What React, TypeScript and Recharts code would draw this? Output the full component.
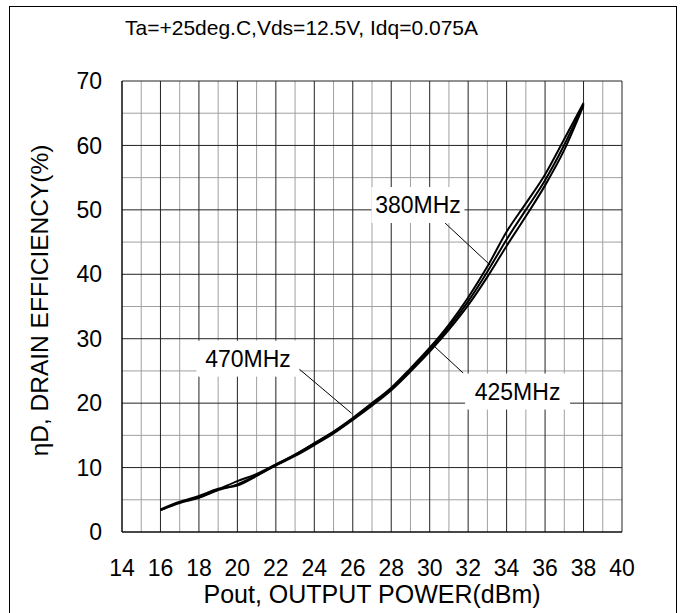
import { LineChart, Line, XAxis, YAxis, CartesianGrid, ReferenceLine, ReferenceDot } from 'recharts';

// Pout (dBm)
const pout = [16, 17, 18, 19, 20, 21, 22, 23, 24, 25, 26, 27, 28, 29, 30, 31, 32, 33, 34, 35, 36, 37, 38];
// drain efficiency (%) per frequency
const eff380 = [3.4, 4.6, 5.4, 6.6, 7.9, 9.0, 10.5, 12.0, 13.8, 15.6, 17.7, 20.0, 22.4, 25.4, 28.6, 32.2, 36.4, 41.2, 46.6, 51.0, 55.5, 61.0, 66.6];
const eff425 = [3.4, 4.5, 5.3, 6.5, 7.4, 8.8, 10.3, 11.8, 13.5, 15.3, 17.4, 19.6, 22.0, 24.9, 28.0, 31.4, 35.2, 39.6, 44.4, 49.0, 53.8, 59.3, 66.2];
const eff470 = [3.5, 4.7, 5.6, 6.7, 7.2, 8.7, 10.4, 12.0, 13.7, 15.5, 17.6, 19.8, 22.2, 25.1, 28.3, 31.8, 35.8, 40.4, 45.4, 50.0, 54.6, 60.1, 66.4];

const xTicks = [14, 16, 18, 20, 22, 24, 26, 28, 30, 32, 34, 36, 38, 40];
const yTicks = [0, 10, 20, 30, 40, 50, 60, 70];
const xMinor = [15, 17, 19, 21, 23, 25, 27, 29, 31, 33, 35, 37, 39];
const yMinor = [5, 15, 25, 35, 45, 55, 65];

// curve labels: text, box centre, leader line from -> to
const labels = [
  { text: '380MHz', at: [29.39, 50.75], from: [30.8, 47.96], to: [33.14, 41.44], w: 93 },
  { text: '425MHz', at: [34.57, 21.8], from: [31.74, 24.68], to: [30.28, 28.71], w: 105 },
  { text: '470MHz', at: [20.55, 26.9], from: [23.15, 25.45], to: [25.94, 18.42], w: 103 },
];

const data = pout.map((x, i) => ({ x, f380: eff380[i], f425: eff425[i], f470: eff470[i] }));

const font = '"Liberation Sans", Arial, sans-serif';

export default function App() {
  return (
    <div style={{ position: 'absolute', left: 0, top: 0, width: 685, height: 613, overflow: 'hidden', background: '#fff', fontFamily: font }}>
      <div style={{ position: 'absolute', left: 9, top: 6, width: 666, height: 620, border: '1px solid #000' }} />
      <div style={{ position: 'absolute', left: 125, top: 16, fontSize: 21, whiteSpace: 'nowrap', color: '#000' }}>
        Ta=+25deg.C,Vds=12.5V, Idq=0.075A
      </div>
      <div style={{ position: 'absolute', left: 0, top: 0 }}>
        <LineChart width={685} height={613} data={data} margin={{ top: 81, right: 63, bottom: 31, left: 0 }}>
          <CartesianGrid stroke="#a0a0a0" verticalValues={xMinor} horizontalValues={yMinor} />
          <CartesianGrid stroke="#222" verticalValues={xTicks} horizontalValues={yTicks} />
          <XAxis
            type="number"
            dataKey="x"
            domain={[14, 40]}
            ticks={xTicks}
            height={50}
            tickLine={false}
            tickSize={0}
            tickMargin={28}
            axisLine={{ stroke: '#000' }}
            tick={{ fill: '#000', fontSize: 23, fontFamily: font }}
            label={{
              content: ({ viewBox }: any) => (
                <text x={viewBox.x + viewBox.width / 2} y={603} textAnchor="middle" fontSize={25} fontFamily={font} fill="#000">
                  Pout, OUTPUT POWER(dBm)
                </text>
              ),
            }}
          />
          <YAxis
            type="number"
            domain={[0, 70]}
            ticks={yTicks}
            width={122}
            tickLine={false}
            tickSize={0}
            tickMargin={20}
            axisLine={{ stroke: '#000' }}
            tick={{ fill: '#000', fontSize: 23, fontFamily: font }}
            label={{
              content: ({ viewBox }: any) => {
                const cx = 48;
                const cy = viewBox.y + viewBox.height / 2 - 6;
                return (
                  <text x={cx} y={cy} transform={`rotate(-90 ${cx} ${cy})`} textAnchor="middle" fontSize={24.5} fontFamily={font} fill="#000">
                    ηD, DRAIN EFFICIENCY(%)
                  </text>
                );
              },
            }}
          />
          <Line type="monotone" dataKey="f380" stroke="#000" strokeWidth={2} dot={false} isAnimationActive={false} />
          <Line type="monotone" dataKey="f425" stroke="#000" strokeWidth={2} dot={false} isAnimationActive={false} />
          <Line type="monotone" dataKey="f470" stroke="#000" strokeWidth={2} dot={false} isAnimationActive={false} />
          {labels.map((l) => (
            <ReferenceLine
              key={l.text + '-lead'}
              segment={[{ x: l.from[0], y: l.from[1] }, { x: l.to[0], y: l.to[1] }]}
              stroke="#000"
              strokeWidth={1}
            />
          ))}
          {labels.map((l) => (
            <ReferenceDot
              key={l.text}
              x={l.at[0]}
              y={l.at[1]}
              r={1}
              shape={(p: any) => (
                <g>
                  <rect x={p.cx - l.w / 2} y={p.cy - 18} width={l.w} height={36} fill="#fff" />
                  <text x={p.cx} y={p.cy + 8} textAnchor="middle" fontSize={23} fontFamily={font} fill="#000">
                    {l.text}
                  </text>
                </g>
              )}
            />
          ))}
        </LineChart>
      </div>
    </div>
  );
}
